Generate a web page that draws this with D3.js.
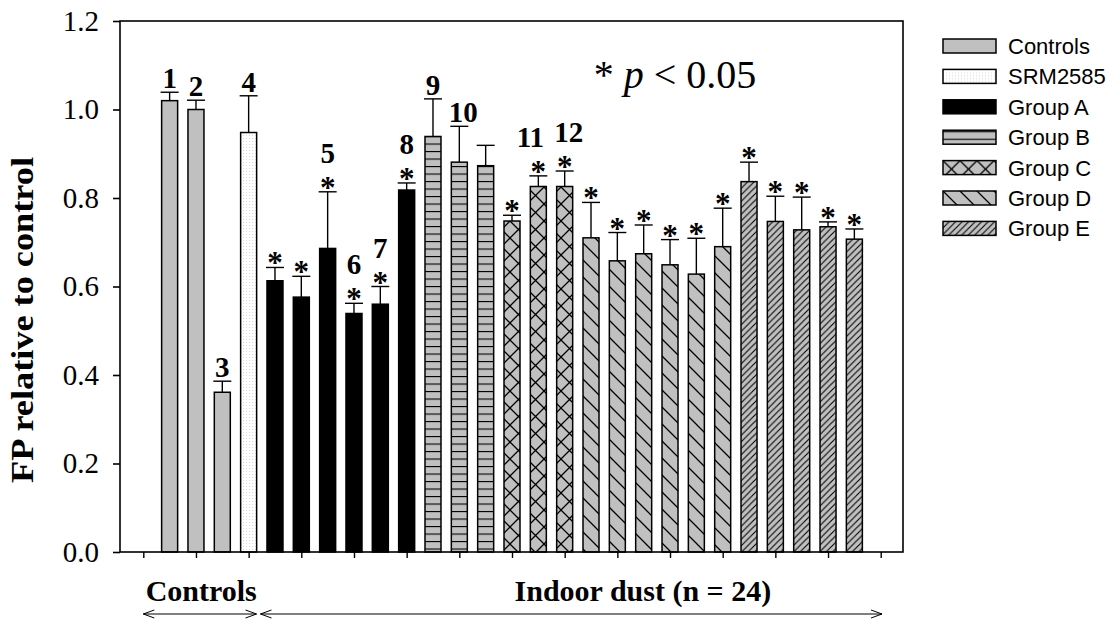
<!DOCTYPE html>
<html>
<head>
<meta charset="utf-8">
<script src="https://cdn.jsdelivr.net/npm/d3@7"></script>
<style>
  body { margin: 0; background: #fff; }
  svg { display: block; }
</style>
</head>
<body>
<script>
// bar data (left to right)
var groups = ['Controls', 'Controls', 'Controls', 'SRM2585',
  'Group A', 'Group A', 'Group A', 'Group A', 'Group A', 'Group A',
  'Group B', 'Group B', 'Group B',
  'Group C', 'Group C', 'Group C',
  'Group D', 'Group D', 'Group D', 'Group D', 'Group D', 'Group D',
  'Group E', 'Group E', 'Group E', 'Group E', 'Group E'];
var values = [1.02, 1.00, 0.361, 0.948,
  0.613, 0.576, 0.686, 0.539, 0.56, 0.818,
  0.939, 0.881, 0.873,
  0.748, 0.826, 0.826,
  0.71, 0.658, 0.674, 0.649, 0.628, 0.69,
  0.837, 0.747, 0.728, 0.735, 0.707];
var errors = [0.019, 0.021, 0.025, 0.083,
  0.03, 0.047, 0.128, 0.023, 0.04, 0.016,
  0.085, 0.081, 0.046,
  0.013, 0.024, 0.035,
  0.08, 0.064, 0.065, 0.057, 0.081, 0.087,
  0.044, 0.057, 0.074, 0.011, 0.023];
var signif = [0, 0, 0, 0,
  1, 1, 1, 1, 1, 1,
  0, 0, 0,
  1, 1, 1,
  1, 1, 1, 1, 1, 1,
  1, 1, 1, 1, 1];
var barLabels = ['1', '2', '3', '4',
  '', '', '5', '6', '7', '8',
  '9', '10', '',
  '', '11', '12',
  '', '', '', '', '', '',
  '', '', '', '', ''];
var legendNames = ['Controls', 'SRM2585', 'Group A', 'Group B', 'Group C', 'Group D', 'Group E'];
var yTicks = [0, 0.2, 0.4, 0.6, 0.8, 1.0, 1.2];
var yTitle = 'FP relative to control';
var spans = [{name: 'Controls', from: 0, to: 4.3, mid: 2.2},
             {name: 'Indoor dust (n = 24)', from: 4.45, to: 28.05, mid: 18.97}];

var W = 1117, H = 620;
var plot = {left: 120, right: 903, top: 21, bottom: 552};
var serif = '"Liberation Serif", "Times New Roman", serif';
var sans = '"Liberation Sans", Arial, sans-serif';
var gray = '#c0c0c0';

var svg = d3.select('body').append('svg')
            .attr('width', W)
            .attr('height', H);

// x is in "slots": ticks sit on even slots, bar i sits on slot i+1
var x = d3.scaleLinear().domain([0, 28]).range([143.3, 880.7]);
var y = d3.scaleLinear().domain([0, 1.2]).range([plot.bottom, plot.top]);
var barW = 16;

// ---- fill patterns
var defs = svg.append('defs');

var pSRM = defs.append('pattern').attr('id', 'pSRM')
  .attr('patternUnits', 'userSpaceOnUse').attr('width', 3).attr('height', 3);
pSRM.append('rect').attr('width', 3).attr('height', 3).attr('fill', '#fff');
pSRM.append('rect').attr('width', 1).attr('height', 1).attr('fill', '#d9d9d9');

var pB = defs.append('pattern').attr('id', 'pB')
  .attr('patternUnits', 'userSpaceOnUse').attr('y', 1).attr('width', 8).attr('height', 7.5);
pB.append('rect').attr('width', 8).attr('height', 7.5).attr('fill', gray);
pB.append('line').attr('x1', 0).attr('x2', 8).attr('y1', 0.5).attr('y2', 0.5)
  .attr('stroke', '#000').attr('stroke-width', 1.2);

var pC = defs.append('pattern').attr('id', 'pC')
  .attr('patternUnits', 'userSpaceOnUse').attr('width', 17).attr('height', 17);
pC.append('rect').attr('width', 17).attr('height', 17).attr('fill', gray);
pC.append('path').attr('d', 'M0,0L17,17M17,0L0,17')
  .attr('stroke', '#000').attr('stroke-width', 1.3);

var pD = defs.append('pattern').attr('id', 'pD')
  .attr('patternUnits', 'userSpaceOnUse').attr('width', 17).attr('height', 17);
pD.append('rect').attr('width', 17).attr('height', 17).attr('fill', gray);
pD.append('path').attr('d', 'M-1,-1L18,18M16,-1L18,1M-1,16L1,18')
  .attr('stroke', '#000').attr('stroke-width', 1.3);

var pE = defs.append('pattern').attr('id', 'pE')
  .attr('patternUnits', 'userSpaceOnUse').attr('width', 6.5).attr('height', 6.5);
pE.append('rect').attr('width', 6.5).attr('height', 6.5).attr('fill', gray);
pE.append('path').attr('d', 'M-1,7.5L7.5,-1M-1,1L1,-1M5.5,7.5L7.5,5.5')
  .attr('stroke', '#000').attr('stroke-width', 1.1);

var fills = {
  'Controls': gray,
  'SRM2585': 'url(#pSRM)',
  'Group A': '#000',
  'Group B': 'url(#pB)',
  'Group C': 'url(#pC)',
  'Group D': 'url(#pD)',
  'Group E': 'url(#pE)'
};

var bars = values.map(function(v, i) {
  return {slot: i + 1, value: v, err: errors[i], group: groups[i], star: signif[i], label: barLabels[i]};
});

// nudge two-digit labels apart when a neighbour is labelled too
var labelShift = function(d, i) {
  if (d.label.length < 2) return 0;
  if (barLabels[i + 1]) return -8;
  if (barLabels[i - 1]) return 4;
  return 0;
};

// ---- bars
svg.append('g').selectAll('rect').data(bars)
  .enter().append('rect')
  .attr('x', function(d) { return x(d.slot) - barW / 2; })
  .attr('y', function(d) { return y(d.value); })
  .attr('width', barW)
  .attr('height', function(d) { return y(0) - y(d.value); })
  .attr('fill', function(d) { return fills[d.group]; })
  .attr('stroke', '#000')
  .attr('stroke-width', 1.5);

// ---- error bars (upper only)
var eb = svg.append('g').attr('stroke', '#000').attr('stroke-width', 1.4);
eb.selectAll('line.v').data(bars).enter().append('line').attr('class', 'v')
  .attr('x1', function(d) { return x(d.slot); })
  .attr('x2', function(d) { return x(d.slot); })
  .attr('y1', function(d) { return y(d.value); })
  .attr('y2', function(d) { return y(d.value + d.err); });
eb.selectAll('line.c').data(bars).enter().append('line').attr('class', 'c')
  .attr('x1', function(d) { return x(d.slot) - barW / 2 - 1; })
  .attr('x2', function(d) { return x(d.slot) + barW / 2 + 1; })
  .attr('y1', function(d) { return y(d.value + d.err); })
  .attr('y2', function(d) { return y(d.value + d.err); });

// ---- stars and sample numbers
svg.append('g').selectAll('text').data(bars.filter(function(d) { return d.star; }))
  .enter().append('text')
  .attr('x', function(d) { return x(d.slot); })
  .attr('y', function(d) { return y(d.value + d.err) + 6; })
  .attr('text-anchor', 'middle')
  .style('font-family', serif)
  .style('font-weight', 'bold')
  .style('font-size', '31px')
  .text('*');

svg.append('g').selectAll('text').data(bars)
  .enter().append('text')
  .attr('x', function(d, i) { return x(d.slot) + labelShift(d, i); })
  .attr('y', function(d) { return y(d.value + d.err) - (d.star ? 29 : 4); })
  .attr('text-anchor', 'middle')
  .style('font-family', serif)
  .style('font-weight', 'bold')
  .style('font-size', '29px')
  .text(function(d) { return d.label; });

// ---- frame and axes
svg.append('rect')
  .attr('x', plot.left).attr('y', plot.top)
  .attr('width', plot.right - plot.left).attr('height', plot.bottom - plot.top)
  .attr('fill', 'none').attr('stroke', '#000').attr('stroke-width', 1.6);

var yAxis = svg.append('g')
  .attr('transform', 'translate(' + plot.left + ',0)')
  .call(d3.axisLeft(y).tickValues(yTicks).tickFormat(d3.format('.1f')).tickSize(7).tickPadding(14))
  .attr('font-family', serif)
  .attr('font-size', 29);
yAxis.select('.domain').remove();
yAxis.selectAll('line').attr('stroke-width', 1.6);
yAxis.selectAll('text')
  .style('font-family', serif)
  .style('font-size', '29px')
  .attr('fill', '#000');

var xTicks = d3.range(0, 29, 2);
var xAxis = svg.append('g')
  .attr('transform', 'translate(0,' + plot.bottom + ')')
  .call(d3.axisBottom(x).tickValues(xTicks).tickFormat('').tickSize(6));
xAxis.select('.domain').remove();
xAxis.selectAll('line').attr('stroke-width', 1.4);

// y title
svg.append('text')
  .attr('transform', 'translate(33,320) rotate(-90)')
  .attr('text-anchor', 'middle')
  .attr('textLength', 326)
  .attr('lengthAdjust', 'spacingAndGlyphs')
  .style('font-family', serif)
  .style('font-weight', 'bold')
  .style('font-size', '32px')
  .text(yTitle);

// significance note
var note = svg.append('text')
  .attr('x', 675).attr('y', 88)
  .attr('text-anchor', 'middle')
  .style('font-family', serif)
  .style('font-size', '40px');
note.append('tspan').text('* ');
note.append('tspan').style('font-style', 'italic').text('p');
note.append('tspan').text(' < 0.05');

// ---- bottom group spans with double arrows
var spanG = svg.append('g');
spans.forEach(function(s) {
  var x0 = x(s.from), x1 = x(s.to), yy = 614;
  spanG.append('path')
    .attr('d', 'M' + x0 + ',' + yy + 'L' + x1 + ',' + yy +
      'M' + (x0 + 11) + ',' + (yy - 4) + 'L' + x0 + ',' + yy + 'L' + (x0 + 11) + ',' + (yy + 4) +
      'M' + (x1 - 11) + ',' + (yy - 4) + 'L' + x1 + ',' + yy + 'L' + (x1 - 11) + ',' + (yy + 4))
    .attr('fill', 'none').attr('stroke', '#000').attr('stroke-width', 1);
  spanG.append('text')
    .attr('x', x(s.mid)).attr('y', 601)
    .attr('text-anchor', 'middle')
    .style('font-family', serif)
    .style('font-weight', 'bold')
    .style('font-size', '30px')
    .text(s.name);
});

// ---- legend
var legend = svg.append('g').attr('transform', 'translate(943,39)');
var rows = legend.selectAll('g').data(legendNames).enter().append('g')
  .attr('transform', function(d, i) { return 'translate(0,' + (i * 30.4) + ')'; });
rows.append('rect')
  .attr('width', 53).attr('height', 14)
  .attr('fill', function(d) { return fills[d]; })
  .attr('stroke', '#000').attr('stroke-width', 1.5);
rows.append('text')
  .attr('x', 65).attr('y', 7).attr('dy', '0.36em')
  .style('font-family', sans)
  .style('font-size', '22px')
  .text(function(d) { return d; });
</script>
</body>
</html>
